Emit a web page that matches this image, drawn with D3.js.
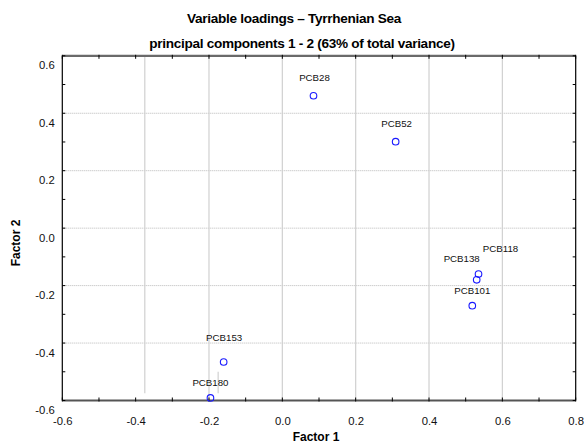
<!DOCTYPE html>
<html>
<head>
<meta charset="utf-8">
<script src="https://cdn.jsdelivr.net/npm/d3@7"></script>
<style>
  html, body { margin: 0; padding: 0; background: #fff; }
  svg { display: block; font-family: "Liberation Sans", Arial, Helvetica, sans-serif; }
</style>
</head>
<body>
<svg id="chart" width="585" height="443"></svg>
<script>
// PCB congener loadings on the first two principal components
const variables = ["PCB28", "PCB52", "PCB118", "PCB138", "PCB101", "PCB153", "PCB180"];
const factor1   = [0.085, 0.309, 0.535, 0.530, 0.518, -0.160, -0.196];
const factor2   = [0.461, 0.301, -0.160, -0.180, -0.270, -0.466, -0.591];

const xTicks = [-0.6, -0.4, -0.2, 0.0, 0.2, 0.4, 0.6, 0.8];
const yTicks = [-0.6, -0.4, -0.2, 0.0, 0.2, 0.4, 0.6];
const xMinor = [-0.5, -0.3, -0.1, 0.1, 0.3, 0.5, 0.7];
const yMinor = [-0.5, -0.3, -0.1, 0.1, 0.3, 0.5];

// label placement relative to each marker (pixels)
const labelShift = {
  PCB28: [1, -18], PCB52: [1, -18], PCB118: [22, -26], PCB138: [-15, -21],
  PCB101: [0, -15], PCB153: [0.5, -24.5], PCB180: [0, -15.5]
};

const svg = d3.select("#chart");
const x = d3.scaleLinear().domain([-0.6, 0.8]).range([62.3, 575.7]);
const y = d3.scaleLinear().domain([-0.6, 0.6]).range([400.5, 55.8]);
// plain hyphen for negative values
const fmt = v => d3.format(".1f")(v).replace("\u2212", "-");

// titles
svg.append("text").attr("x", 294).attr("y", 23)
  .attr("text-anchor", "middle").attr("font-weight", "bold").attr("font-size", 13.6)
  .attr("letter-spacing", -0.3)
  .text("Variable loadings \u2013 Tyrrhenian Sea");
svg.append("text").attr("x", 302).attr("y", 48)
  .attr("text-anchor", "middle").attr("font-weight", "bold").attr("font-size", 13.6)
  .attr("letter-spacing", -0.3)
  .text("principal components 1 - 2 (63% of total variance)");

// grid
const grid = svg.append("g");
grid.selectAll("line.hg").data(yTicks.filter(v => v > -0.6 && v < 0.6)).join("line")
  .attr("x1", x(-0.6)).attr("x2", x(0.8))
  .attr("y1", d => y(d)).attr("y2", d => y(d))
  .attr("stroke", "#b8b8b8").attr("stroke-width", 1).attr("stroke-dasharray", "1,1");
grid.selectAll("line.vg").data(xTicks.filter(v => v > -0.4 && v < 0.8)).join("line")
  .attr("y1", y(0.6)).attr("y2", y(-0.6))
  .attr("x1", d => x(d)).attr("x2", d => x(d))
  .attr("stroke", "#d0d0d0").attr("stroke-width", 1.2);
// extra vertical rules
const rules = [[-0.375, 0.6, -0.575], [-0.175, -0.5, -0.575]];
grid.selectAll("line.rule").data(rules).join("line")
  .attr("x1", d => x(d[0])).attr("x2", d => x(d[0]))
  .attr("y1", d => y(d[1])).attr("y2", d => y(d[2]))
  .attr("stroke", "#d0d0d0").attr("stroke-width", 1.2);

// frame
const frame = svg.append("g");
frame.append("line").attr("x1", x(-0.6)).attr("x2", x(0.8)).attr("y1", y(0.6)).attr("y2", y(0.6))
  .attr("stroke", "#6a6a6a").attr("stroke-width", 2.2);
frame.append("line").attr("x1", x(-0.6)).attr("x2", x(0.8)).attr("y1", y(-0.6)).attr("y2", y(-0.6))
  .attr("stroke", "#555").attr("stroke-width", 2.2);
frame.append("line").attr("x1", x(-0.6)).attr("x2", x(-0.6)).attr("y1", y(0.6)).attr("y2", y(-0.6))
  .attr("stroke", "#000").attr("stroke-width", 1.2);
frame.append("line").attr("x1", x(0.8)).attr("x2", x(0.8)).attr("y1", y(0.6)).attr("y2", y(-0.6))
  .attr("stroke", "#000").attr("stroke-width", 1.2);

// ticks (inward) on all four sides
const tk = svg.append("g").attr("stroke", "#000").attr("stroke-width", 1);
const allX = xTicks.concat(xMinor), allY = yTicks.concat(yMinor);
tk.selectAll("line.tb").data(allX).join("line")
  .attr("x1", d => x(d)).attr("x2", d => x(d)).attr("y1", y(-0.6) + 1).attr("y2", y(-0.6) - 3);
tk.selectAll("line.tt").data(allX).join("line")
  .attr("x1", d => x(d)).attr("x2", d => x(d)).attr("y1", y(0.6) - 1).attr("y2", y(0.6) + 3);
tk.selectAll("line.tl").data(allY).join("line")
  .attr("y1", d => y(d)).attr("y2", d => y(d)).attr("x1", x(-0.6)).attr("x2", x(-0.6) + 3);
tk.selectAll("line.tr").data(allY).join("line")
  .attr("y1", d => y(d)).attr("y2", d => y(d)).attr("x1", x(0.8)).attr("x2", x(0.8) - 3);

// tick labels via axis generators
const xAxis = svg.append("g").attr("transform", `translate(0,${y(-0.6)})`)
  .call(d3.axisBottom(x).tickValues(xTicks).tickFormat(fmt).tickSize(0).tickPadding(16));
const yAxis = svg.append("g").attr("transform", `translate(${x(-0.6)},0)`)
  .call(d3.axisLeft(y).tickValues(yTicks).tickFormat(fmt).tickSize(0).tickPadding(7.5));
[xAxis, yAxis].forEach(a => {
  a.select(".domain").remove();
  a.selectAll("text").attr("font-size", 11.3).attr("fill", "#111")
    .attr("font-family", "'Liberation Sans', Arial, sans-serif");
});
yAxis.selectAll("text").attr("dy", "1.15em");

// axis titles
svg.append("text").attr("x", 316).attr("y", 440.5)
  .attr("text-anchor", "middle").attr("font-weight", "bold").attr("font-size", 12)
  .text("Factor 1");
svg.append("text").attr("transform", "translate(19.5,243) rotate(-90)")
  .attr("text-anchor", "middle").attr("font-weight", "bold").attr("font-size", 12)
  .text("Factor 2");

// points and labels
const pts = variables.map((name, i) => ({ name, f1: factor1[i], f2: factor2[i] }));
svg.append("g").selectAll("circle").data(pts).join("circle")
  .attr("cx", d => x(d.f1)).attr("cy", d => y(d.f2)).attr("r", 3.3)
  .attr("fill", "none").attr("stroke", "#1a1aff").attr("stroke-width", 1.1);
svg.append("g").selectAll("text").data(pts).join("text")
  .attr("x", d => x(d.f1) + labelShift[d.name][0])
  .attr("y", d => y(d.f2) + labelShift[d.name][1])
  .attr("dy", "0.35em").attr("text-anchor", "middle")
  .attr("font-size", 9.7).attr("fill", "#111")
  .text(d => d.name);
</script>
</body>
</html>
